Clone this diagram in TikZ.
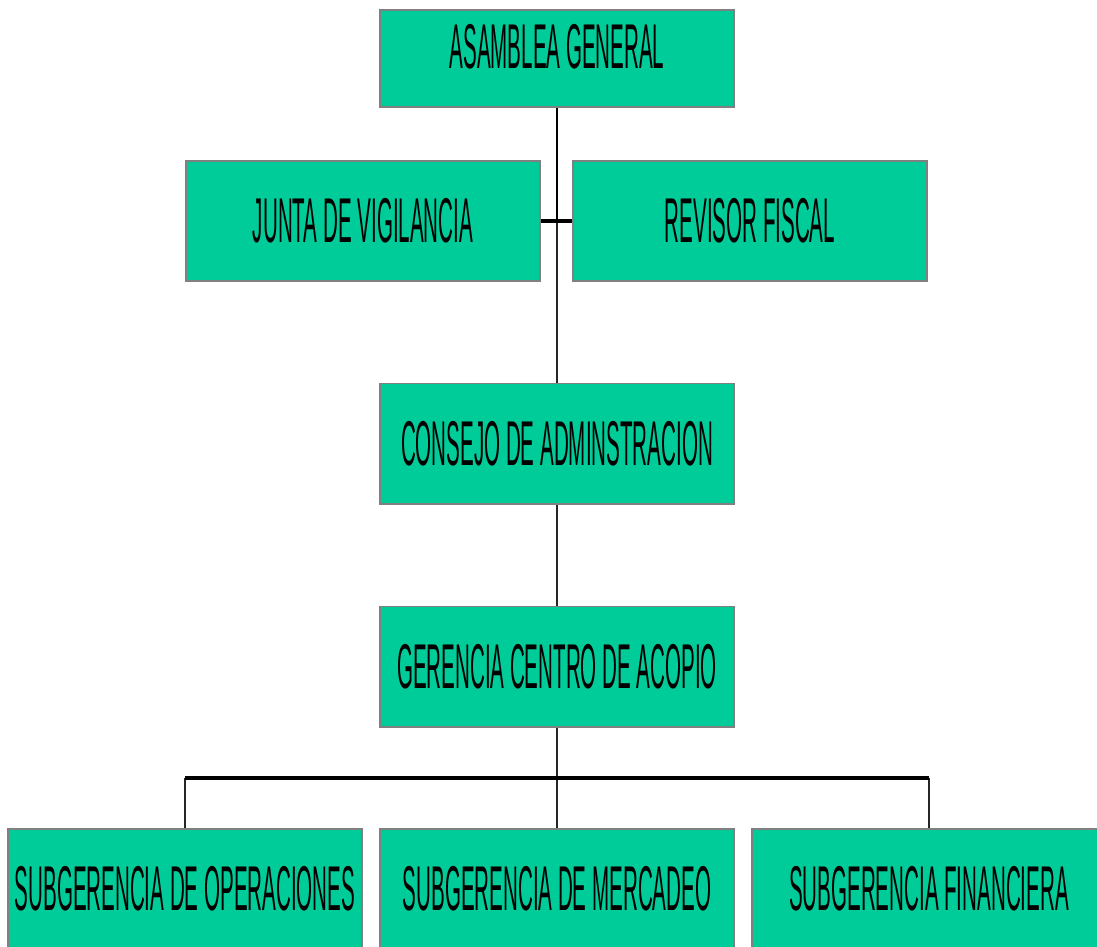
\documentclass[tikz,border=0pt]{standalone}
\usepackage{fontspec}
\newfontfamily\orgfont[FakeStretch=0.325]{Liberation Sans}
\definecolor{boxgreen}{HTML}{00CC99}
\definecolor{boxedge}{HTML}{808080}
\begin{document}
\begin{tikzpicture}[x=0.025cm, y=-0.025cm,
    unit/.style = {fill=boxgreen, draw=boxedge, line width=1.4pt,
                   minimum width=8.85cm, minimum height=3cm, inner sep=0pt,
                   font=\orgfont\fontsize{45}{50}\selectfont},
    stem/.style = {draw=black!85, line width=1.3pt},
    bus/.style  = {draw=black, line width=2.8pt}]
  \useasboundingbox (0,0) rectangle (1097,946);
  \clip (0,0) rectangle (1097,946);
  % organs
  \node [unit, minimum height=2.425cm, text height=30pt, text depth=15.6pt]
        (asamblea)    at (557,58.5)  {ASAMBLEA GENERAL};
  \node [unit] (junta)       at (363,221)   {JUNTA DE VIGILANCIA};
  \node [unit] (revisor)     at (750,221)   {REVISOR FISCAL};
  \node [unit] (consejo)     at (557,443.5) {CONSEJO DE ADMINSTRACION};
  \node [unit] (gerencia)    at (557,666.5) {GERENCIA CENTRO DE ACOPIO};
  \node [unit] (operaciones) at (185,889)   {SUBGERENCIA DE OPERACIONES};
  \node [unit] (mercadeo)    at (557,889)   {SUBGERENCIA DE MERCADEO};
  \node [unit] (financiera)  at (929,889)   {SUBGERENCIA FINANCIERA};
  \coordinate (bus) at (557,778);
  % lines
  \draw [stem, draw=black] (asamblea.south) -- (asamblea.south |- junta);
  \draw [stem] (asamblea.south |- junta) -- (consejo.north);
  \draw [bus] (junta.east) -- (revisor.west);
  \draw [stem] (consejo.south) -- (gerencia.north);
  \draw [stem] (gerencia.south) -- (mercadeo.north);
  \draw [stem] (operaciones.north) -- (operaciones.north |- bus);
  \draw [stem] (financiera.north) -- (financiera.north |- bus);
  \draw [bus] (operaciones.north |- bus) -- (financiera.north |- bus);
\end{tikzpicture}
\end{document}
